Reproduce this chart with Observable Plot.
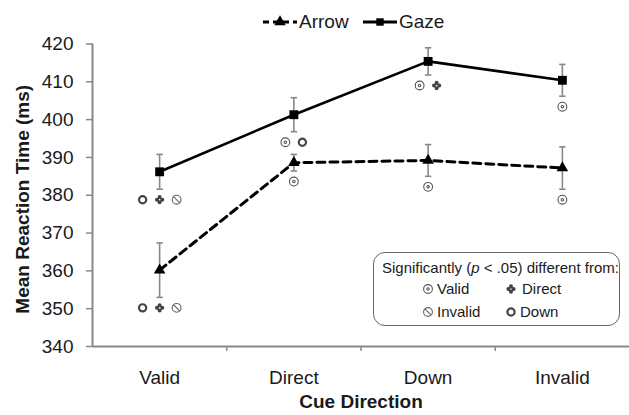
<!DOCTYPE html>
<html>
<head>
<meta charset="utf-8">
<script src="https://cdn.jsdelivr.net/npm/d3@7"></script>
<script src="https://cdn.jsdelivr.net/npm/@observablehq/plot@0.6"></script>
<style>
  html, body { margin: 0; padding: 0; background: white; }
  body { font-family: "Liberation Sans", Arial, sans-serif; color: #1a1a1a; }
  #page { position: relative; width: 629px; height: 415px; overflow: hidden; }
  #legend { position: relative; height: 36px; width: 629px; font-size: 19px; }
  .lg { position: absolute; top: 10px; height: 24px; display: flex; align-items: center; }
  .lg svg { display: block; }
  #box { position: absolute; left: 373px; top: 252px; width: 247px; height: 74px; box-sizing: border-box;
         border: 1.5px solid #666; border-radius: 12px; background: white; font-size: 15px; }
  .bx { position: absolute; white-space: nowrap; line-height: 18px; display: flex; align-items: center; }
  .bt { position: absolute; white-space: pre; line-height: 18px; }
</style>
</head>
<body>
<div id="page">
  <div id="legend"></div>
  <div id="chart"></div>
  <div id="box"></div>
</div>
<script>
// ---------- data ----------
const categories = ["Valid", "Direct", "Down", "Invalid"];
const seriesNames = ["Arrow", "Gaze"];
const arrowMean = [360.2, 388.6, 389.2, 387.2];
const arrowErr  = [7.2, 2.2, 4.2, 5.6];
const gazeMean  = [386.2, 401.3, 415.4, 410.4];
const gazeErr   = [4.6, 4.5, 3.6, 4.2];
// significance markers shown under each point
const arrowSig = [["Down", "Direct", "Invalid"], ["Valid"], ["Valid"], ["Valid"]];
const gazeSig  = [["Down", "Direct", "Invalid"], ["Valid", "Down"], ["Valid", "Direct"], ["Valid"]];
const yTicks = [340, 350, 360, 370, 380, 390, 400, 410, 420];
const legendTitle = ["Significantly (", "p", " < .05) different from:"];

// ---------- tables ----------
const rows = [];
categories.forEach((c, i) => rows.push({i, cat: c, series: "Arrow", mean: arrowMean[i], err: arrowErr[i]}));
categories.forEach((c, i) => rows.push({i, cat: c, series: "Gaze", mean: gazeMean[i], err: gazeErr[i]}));
rows.forEach(d => { d.lo = d.mean - d.err; d.hi = d.mean + d.err; });

const W = 629, H = 415 - 36;
const mL = 92, mR = 0;
const unitPx = (W - mL - mR) / 4;
const spacing = 17 / unitPx; // symbol spacing in x units

const sigRows = [];
[[arrowSig, "Arrow"], [gazeSig, "Gaze"]].forEach(([sig, s]) => {
  sig.forEach((list, i) => {
    const r = rows.find(d => d.series === s && d.i === i);
    list.forEach((sym, k) => sigRows.push({sym, x: i + (k - (list.length - 1) / 2) * spacing, y: r.lo}));
  });
});

// ---------- custom symbols ----------
const R = s => Math.sqrt(s / Math.PI);
const circ = (ctx, x, y, r) => { ctx.moveTo(x + r, y); ctx.arc(x, y, r, 0, 2 * Math.PI); };
const symValid = {draw(ctx, s) { const r = R(s); circ(ctx, 0, 0, r); circ(ctx, 0, 0, r * 0.28); }};
const symInvalid = {draw(ctx, s) { const r = R(s); circ(ctx, 0, 0, r); ctx.moveTo(-r * 0.7, -r * 0.7); ctx.lineTo(r * 0.7, r * 0.7); }};
const symDirect = {draw(ctx, s) { const r = R(s); const d = r * 0.55, q = r * 0.42; circ(ctx, d, 0, q); circ(ctx, -d, 0, q); circ(ctx, 0, d, q); circ(ctx, 0, -d, q); }};
const symDown = {draw(ctx, s) { const r = R(s); circ(ctx, 0, 0, r); }};
const symCap = {draw(ctx, s) { const r = R(s); ctx.moveTo(-r, 0); ctx.lineTo(r, 0); }};

const symStyle = {
  Valid:   {symbol: symValid, r: 4.4, fill: "none", stroke: "#555", strokeWidth: 1.1},
  Invalid: {symbol: symInvalid, r: 4.4, fill: "none", stroke: "#666", strokeWidth: 1.1},
  Direct:  {symbol: symDirect, r: 4.8, fill: "#444", stroke: "none", strokeWidth: 0},
  Down:    {symbol: symDown, r: 3.6, fill: "none", stroke: "#444", strokeWidth: 2.2}
};

const sigMarks = Object.entries(symStyle).map(([name, st]) =>
  Plot.dot(sigRows.filter(d => d.sym === name), {x: "x", y: "y", dy: 10.5, ...st})
);

// ---------- chart ----------
const chart = Plot.plot({
  width: W, height: H,
  marginTop: 7.5, marginBottom: 69, marginLeft: mL, marginRight: mR,
  style: {fontFamily: "'Liberation Sans', Arial, sans-serif", fontSize: "19px", color: "#1a1a1a", background: "white", overflow: "visible"},
  x: {domain: [-0.5, 3.5]},
  y: {domain: [340, 420]},
  marks: [
    Plot.axisY({ticks: yTicks, tickSize: 6, tickPadding: 13, stroke: "#888", strokeWidth: 1.5, tickFormat: d => d, label: null}),
    Plot.axisX({ticks: [0, 1, 2, 3], tickSize: 0, tickPadding: 24, tickFormat: i => categories[i], label: null}),
    Plot.axisX({ticks: [0.5, 1.5, 2.5], tickSize: 5, tickFormat: () => "", stroke: "#888", strokeWidth: 1.5, label: null}),
    Plot.ruleY([340], {stroke: "#888", strokeWidth: 2}),
    Plot.ruleX([-0.5], {y1: 340, y2: 420, stroke: "#888", strokeWidth: 2}),
    Plot.text(["Cue Direction"], {frameAnchor: "bottom", dy: 61, fontWeight: "bold", fontSize: 19, fill: "#1a1a1a"}),
    Plot.text(["Mean Reaction Time (ms)"], {frameAnchor: "left", textAnchor: "middle", rotate: -90, dx: -70, dy: 4, fontWeight: "bold", fontSize: 19, fill: "#1a1a1a"}),
    // error bars
    Plot.ruleX(rows, {x: "i", y1: "lo", y2: "hi", stroke: "#888", strokeWidth: 1.6}),
    Plot.dot(rows, {x: "i", y: "lo", symbol: symCap, r: 3.2, stroke: "#888", strokeWidth: 1.6}),
    Plot.dot(rows, {x: "i", y: "hi", symbol: symCap, r: 3.2, stroke: "#888", strokeWidth: 1.6}),
    // lines
    Plot.line(rows.filter(d => d.series === "Arrow"), {x: "i", y: "mean", stroke: "black", strokeWidth: 3, strokeDasharray: "8,5"}),
    Plot.line(rows.filter(d => d.series === "Gaze"), {x: "i", y: "mean", stroke: "black", strokeWidth: 2.6}),
    Plot.dot(rows.filter(d => d.series === "Arrow"), {x: "i", y: "mean", symbol: "triangle", r: 4.3, fill: "black"}),
    Plot.dot(rows.filter(d => d.series === "Gaze"), {x: "i", y: "mean", symbol: "square", r: 5, fill: "black"}),
    ...sigMarks
  ]
});
document.getElementById("chart").appendChild(chart);

// ---------- top legend ----------
function swatch(dashed, symbolType, r) {
  const path = d3.symbol(symbolType, Math.PI * r * r)();
  return `<svg width="36" height="14" viewBox="-18 -7 36 14">
    <line x1="-17" x2="17" y1="0" y2="0" stroke="black" stroke-width="3" ${dashed ? 'stroke-dasharray="6,4"' : ''}/>
    <path d="${path}" fill="black"/></svg>`;
}
const legend = document.getElementById("legend");
const lgPos = [262, 362];
seriesNames.forEach((name, k) => {
  const el = document.createElement("div");
  el.className = "lg";
  el.style.left = lgPos[k] + "px";
  el.innerHTML = (k === 0 ? swatch(true, d3.symbolTriangle, 4.3) : swatch(false, d3.symbolSquare, 4.2)) +
    `<span style="margin-left:1px">${name}</span>`;
  legend.appendChild(el);
});

// ---------- significance legend box ----------
const box = document.getElementById("box");
function icon(name) {
  const st = symStyle[name];
  const path = d3.symbol(st.symbol, Math.PI * st.r * st.r)();
  return `<svg width="12" height="12" viewBox="-6 -6 12 12" style="display:block"><path d="${path}" fill="${st.fill}" stroke="${st.stroke}" stroke-width="${st.strokeWidth}"/></svg>`;
}
const title = document.createElement("div");
title.className = "bt";
title.style.left = "8px"; title.style.top = "6px";
title.innerHTML = `<span>${legendTitle[0]}</span><i>${legendTitle[1]}</i><span>${legendTitle[2].replace("<", "&lt;")}</span>`;
box.appendChild(title);
const boxItems = [["Valid", 48, 27], ["Direct", 131, 27], ["Invalid", 48, 50], ["Down", 131, 50]];
boxItems.forEach(([name, left, top]) => {
  const el = document.createElement("div");
  el.className = "bx";
  el.style.left = left + "px"; el.style.top = top + "px";
  el.innerHTML = icon(name) + `<span style="margin-left:${name === "Direct" ? 5 : 3}px">${name}</span>`;
  box.appendChild(el);
});
</script>
</body>
</html>
